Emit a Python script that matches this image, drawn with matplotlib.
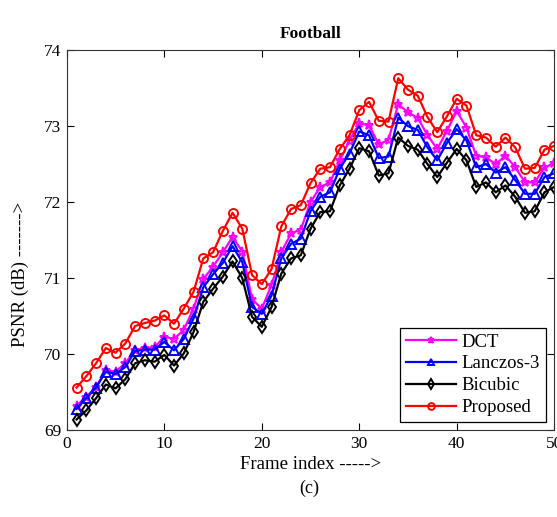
import matplotlib
matplotlib.use("Agg")
import matplotlib.pyplot as plt
import numpy as np

plt.rcParams["font.family"] = ["Liberation Serif", "DejaVu Serif"]
plt.rcParams["mathtext.fontset"] = "stix"

frames = np.arange(1, 51)

dct = [69.32, 69.44, 69.57, 69.79, 69.77, 69.88, 70.05, 70.08, 70.09, 70.23,
       70.20, 70.32, 70.60, 70.99, 71.15, 71.34, 71.54, 71.35, 70.72, 70.60,
       70.91, 71.34, 71.59, 71.64, 72.00, 72.20, 72.26, 72.55, 72.81, 73.04,
       73.01, 72.76, 72.82, 73.29, 73.18, 73.11, 72.88, 72.70, 72.94, 73.20,
       72.98, 72.61, 72.59, 72.50, 72.61, 72.46, 72.26, 72.26, 72.46, 72.51]
lanczos = [69.28, 69.42, 69.56, 69.77, 69.74, 69.83, 70.04, 70.06, 70.06, 70.16,
           70.05, 70.20, 70.47, 70.88, 71.05, 71.20, 71.42, 71.21, 70.62, 70.53,
           70.77, 71.26, 71.45, 71.52, 71.88, 72.07, 72.13, 72.44, 72.64, 72.93,
           72.88, 72.58, 72.60, 73.11, 73.00, 72.95, 72.72, 72.55, 72.78, 72.96,
           72.81, 72.46, 72.50, 72.39, 72.46, 72.29, 72.11, 72.11, 72.33, 72.38]
bicubic = [69.14, 69.26, 69.42, 69.60, 69.55, 69.67, 69.88, 69.92, 69.90, 69.99,
           69.85, 70.01, 70.29, 70.69, 70.86, 71.02, 71.22, 71.00, 70.49, 70.36,
           70.62, 71.06, 71.26, 71.30, 71.65, 71.87, 71.88, 72.22, 72.44, 72.71,
           72.67, 72.35, 72.38, 72.85, 72.74, 72.69, 72.50, 72.33, 72.52, 72.70,
           72.55, 72.20, 72.26, 72.13, 72.22, 72.07, 71.86, 71.88, 72.13, 72.20]
proposed = [69.56, 69.71, 69.88, 70.08, 70.02, 70.14, 70.37, 70.41, 70.44, 70.51,
            70.40, 70.60, 70.82, 71.26, 71.34, 71.62, 71.86, 71.65, 71.04, 70.92,
            71.12, 71.68, 71.91, 71.96, 72.25, 72.44, 72.46, 72.70, 72.88, 73.21,
            73.32, 73.07, 73.06, 73.63, 73.48, 73.40, 73.12, 72.92, 73.13, 73.36,
            73.27, 72.88, 72.85, 72.73, 72.85, 72.72, 72.44, 72.45, 72.69, 72.74]

series = [
    ("DCT", dct, "#ff00ff", "*"),
    ("Lanczos-3", lanczos, "#0000ff", "^"),
    ("Bicubic", bicubic, "#000000", "d"),
    ("Proposed", proposed, "#ff0000", "o"),
]

fig = plt.figure(figsize=(5.57, 5.17), dpi=100)
ax = fig.add_axes([0.120, 0.168, 0.875, 0.735])

for name, vals, color, marker in series:
    ax.plot(frames, vals, color=color, marker=marker, lw=1.6, ms=6.5,
            mfc="none", mec=color, mew=1.4, label=name)

ax.set_xlim(0, 50)
ax.set_ylim(69, 74)
ax.set_xticks(range(0, 51, 10))
ax.set_yticks(range(69, 75))
ax.tick_params(direction="in", top=True, right=True, labelsize=12.5,
               length=5, width=0.8, pad=4)
for s in ax.spines.values():
    s.set_linewidth(0.8)
    s.set_color("#333333")

ax.set_title("Football", fontsize=12.5, fontweight="bold", pad=9)
ax.set_xlabel("Frame index ----->", fontsize=13.5, labelpad=3)
ax.set_ylabel("PSNR (dB) ------->", fontsize=13.5)
ax.yaxis.set_label_coords(-0.078, 0.41)
fig.text(0.555, 0.046, "(c)", ha="center", fontsize=13)

leg = ax.legend(loc="lower right", fontsize=13.5, fancybox=False,
                edgecolor="black", framealpha=1, handlelength=2.7,
                markerscale=0.75, borderpad=0.3, labelspacing=0.25,
                handletextpad=0.3, borderaxespad=0.45)
leg.get_frame().set_linewidth(0.9)

fig.savefig("out.png", dpi=100)
